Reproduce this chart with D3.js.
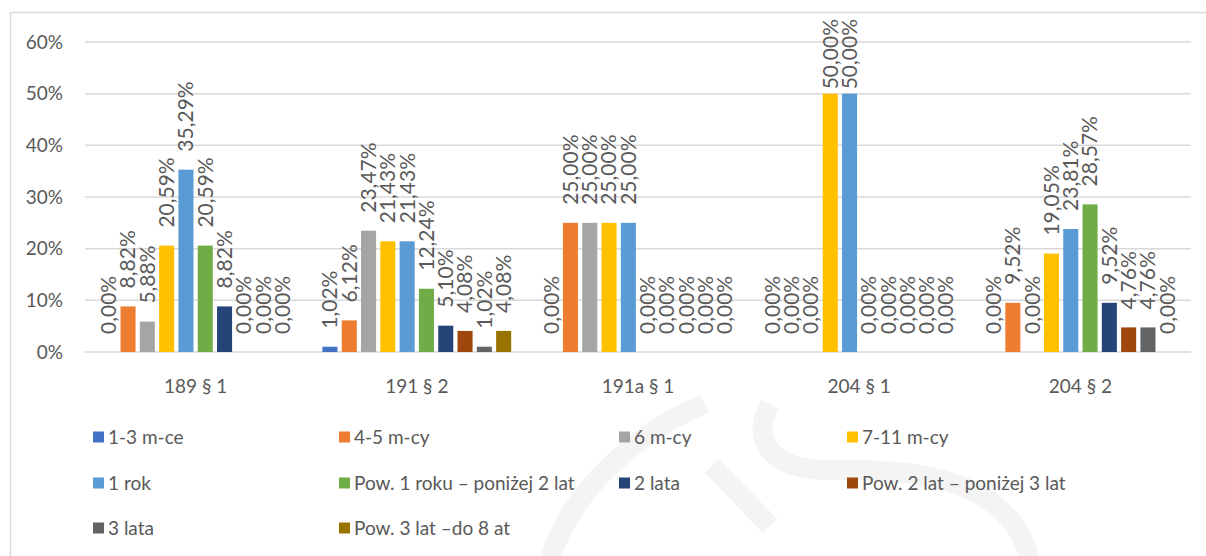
<!DOCTYPE html>
<html>
<head>
<meta charset="utf-8">
<script src="https://cdn.jsdelivr.net/npm/d3@7"></script>
<style>
  html, body { margin: 0; padding: 0; background: #fff; }
  svg { display: block; font-family: Lato, "Noto Sans", sans-serif; }
  .grid line { stroke: #d9d9d9; stroke-width: 1.5; }
  .tick-label { fill: #595959; font-size: 19px; }
  .cat-label { fill: #595959; font-size: 19px; }
  .value-label { fill: #595959; font-size: 21px; }
  .legend-label { fill: #595959; font-size: 19px; }
</style>
</head>
<body>
<svg id="chart" width="1206" height="556"></svg>
<script>
// categories (article numbers) and series (sentence length)
const categories = ["189 § 1", "191 § 2", "191a § 1", "204 § 1", "204 § 2"];
const seriesNames = [
  "1-3 m-ce", "4-5 m-cy", "6 m-cy", "7-11 m-cy", "1 rok",
  "Pow. 1 roku – poniżej 2 lat", "2 lata", "Pow. 2 lat – poniżej 3 lat",
  "3 lata", "Pow. 3 lat –do 8 at"
];
const seriesColors = [
  "#4472c4", "#ed7d31", "#a5a5a5", "#ffc000", "#5b9bd5",
  "#70ad47", "#264478", "#9e480e", "#636363", "#997300"
];
// values in percent, one array per category, in series order
const values189 = [0, 8.82, 5.88, 20.59, 35.29, 20.59, 8.82, 0, 0, 0];
const values191 = [1.02, 6.12, 23.47, 21.43, 21.43, 12.24, 5.10, 4.08, 1.02, 4.08];
const values191a = [0, 25.00, 25.00, 25.00, 25.00, 0, 0, 0, 0, 0];
const values204_1 = [0, 0, 0, 50.00, 50.00, 0, 0, 0, 0, 0];
const values204_2 = [0, 9.52, 0, 19.05, 23.81, 28.57, 9.52, 4.76, 4.76, 0];
const yTicks = [0, 10, 20, 30, 40, 50, 60];

const valueRows = [values189, values191, values191a, values204_1, values204_2];
const cells = [];
categories.forEach((cat, ci) => {
  seriesNames.forEach((name, si) => {
    cells.push({ category: cat, series: name, color: seriesColors[si], value: valueRows[ci][si] });
  });
});

const plot = { left: 85, right: 1191, top: 42, bottom: 352 };
const svg = d3.select("#chart");

const plLocale = d3.formatLocale({ decimal: ",", thousands: " ", grouping: [3], currency: ["", " zł"] });
const fmtValue = (v) => plLocale.format(".2f")(v) + "%";

const x0 = d3.scaleBand().domain(categories).range([plot.left, plot.right]);
const x1 = d3.scaleBand().domain(seriesNames).range([0, x0.bandwidth()])
  .paddingInner(0.22).paddingOuter(0.84);
const y = d3.scaleLinear().domain([0, 60]).range([plot.bottom, plot.top]);

// faint watermark behind everything
const mark = svg.append("g").attr("fill", "none").attr("stroke", "#f4f4f4").attr("stroke-width", 20);
mark.append("path").attr("d", "M 705 404 C 640 430 570 490 550 560");
mark.append("path").attr("d", "M 770 404 C 750 440 770 470 830 470 C 920 468 1010 480 1030 560");
mark.append("path").attr("d", "M 712 466 L 770 526");

// chart frame (only top and left edges are visible)
svg.append("path")
  .attr("d", "M 10.5 556 L 10.5 12.5 L 1206 12.5")
  .attr("fill", "none")
  .attr("stroke", "#d9d9d9")
  .attr("stroke-width", 1.5);

// gridlines
svg.append("g").attr("class", "grid")
  .selectAll("line")
  .data(yTicks)
  .join("line")
  .attr("x1", plot.left)
  .attr("x2", plot.right)
  .attr("y1", (d) => y(d))
  .attr("y2", (d) => y(d));

svg.append("g")
  .selectAll("text")
  .data(yTicks)
  .join("text")
  .attr("class", "tick-label")
  .attr("x", 63)
  .attr("y", (d) => y(d))
  .attr("dy", "0.35em")
  .attr("text-anchor", "end")
  .text((d) => d + "%");

// bars
svg.append("g")
  .selectAll("rect")
  .data(cells)
  .join("rect")
  .attr("x", (d) => x0(d.category) + x1(d.series))
  .attr("y", (d) => y(d.value))
  .attr("width", x1.bandwidth())
  .attr("height", (d) => y(0) - y(d.value))
  .attr("fill", (d) => d.color);

// rotated value labels above each bar
const labelGap = 18;
const labelTop = 19;
const labels = svg.append("g")
  .selectAll("text")
  .data(cells)
  .join("text")
  .attr("class", "value-label")
  .attr("text-anchor", "start")
  .attr("dy", "0.35em")
  .text((d) => fmtValue(d.value));

labels.each(function (d) {
  const len = this.getComputedTextLength();
  let start = y(d.value) - labelGap;
  if (start - len < labelTop) start = labelTop + len;
  const cx = x0(d.category) + x1(d.series) + x1.bandwidth() / 2;
  d3.select(this).attr("transform", `translate(${cx},${start}) rotate(-90)`);
});

// category labels
svg.append("g")
  .selectAll("text")
  .data(categories)
  .join("text")
  .attr("class", "cat-label")
  .attr("x", (d) => x0(d) + x0.bandwidth() / 2)
  .attr("y", 386)
  .attr("dy", "0.35em")
  .attr("text-anchor", "middle")
  .text((d) => d);

// legend: 4 columns, 3 rows
const legendCols = [93, 339, 619, 847];
const legendRows = [437, 483, 528];
const legend = svg.append("g")
  .selectAll("g")
  .data(seriesNames)
  .join("g")
  .attr("transform", (d, i) => `translate(${legendCols[i % 4]},${legendRows[Math.floor(i / 4)]})`);

legend.append("rect")
  .attr("x", 0)
  .attr("y", -5.5)
  .attr("width", 11)
  .attr("height", 11)
  .attr("fill", (d, i) => seriesColors[i]);

legend.append("text")
  .attr("class", "legend-label")
  .attr("x", 15)
  .attr("dy", "0.35em")
  .text((d) => d);
</script>
</body>
</html>
